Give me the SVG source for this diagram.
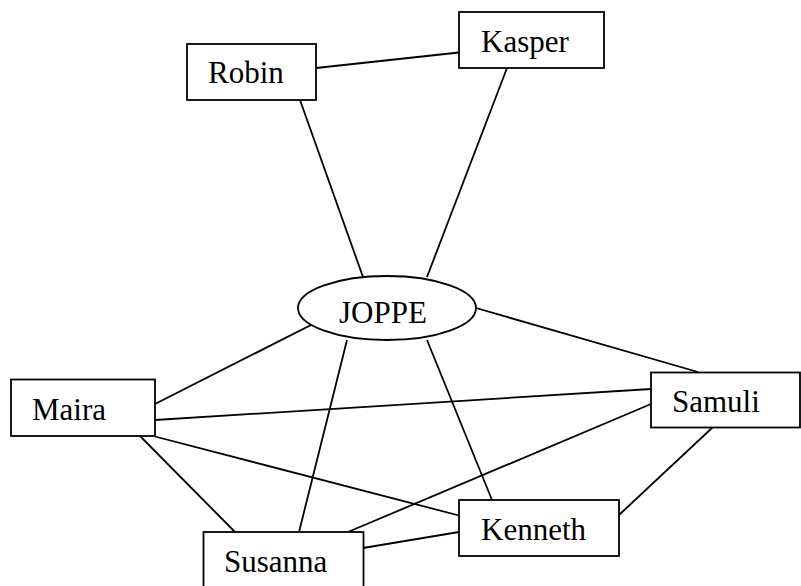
<svg xmlns="http://www.w3.org/2000/svg" width="801" height="586" viewBox="0 0 801 586">
<style>
.box{fill:#fff;stroke:#000;stroke-width:1.8}
.lbl{font-family:"Liberation Serif","Times New Roman",serif;font-size:31px;fill:#000}
.edges line{stroke:#000;stroke-width:1.8}
</style>
<rect width="801" height="586" fill="#fff"/>
<g id="connectors" class="edges">
<line x1="316" y1="68" x2="459" y2="52.5"/>
<line x1="300" y1="100" x2="363" y2="277"/>
<line x1="507" y1="68" x2="427" y2="277"/>
<line x1="476" y1="308" x2="698" y2="372"/>
<line x1="313" y1="324" x2="155" y2="404"/>
<line x1="347" y1="340" x2="299" y2="532"/>
<line x1="427" y1="340" x2="492" y2="500"/>
<line x1="155" y1="420" x2="651" y2="389"/>
<line x1="155" y1="436.5" x2="459" y2="515.5"/>
<line x1="140" y1="436" x2="235" y2="532"/>
<line x1="348" y1="532" x2="651" y2="404"/>
<line x1="713" y1="427" x2="619" y2="515"/>
<line x1="363" y1="548" x2="459" y2="532"/>
</g>
<g id="robin"><rect class="box" x="187" y="44" width="129" height="56"/><text class="lbl" x="208" y="83">Robin</text></g>
<g id="kasper"><rect class="box" x="459" y="12" width="145" height="56"/><text class="lbl" x="481" y="52">Kasper</text></g>
<g id="joppe"><ellipse class="box" cx="387" cy="308" rx="89" ry="32"/><text class="lbl" x="339" y="322.5">JOPPE</text></g>
<g id="maira"><rect class="box" x="11" y="379.5" width="144" height="56.5"/><text class="lbl" x="32" y="420">Maira</text></g>
<g id="samuli"><rect class="box" x="651" y="372.5" width="149" height="55"/><text class="lbl" x="672" y="411.5">Samuli</text></g>
<g id="kenneth"><rect class="box" x="459" y="500" width="160" height="56"/><text class="lbl" x="481" y="540">Kenneth</text></g>
<g id="susanna"><rect class="box" x="203.5" y="532" width="160" height="57"/><text class="lbl" x="224" y="571.5">Susanna</text></g>
</svg>
